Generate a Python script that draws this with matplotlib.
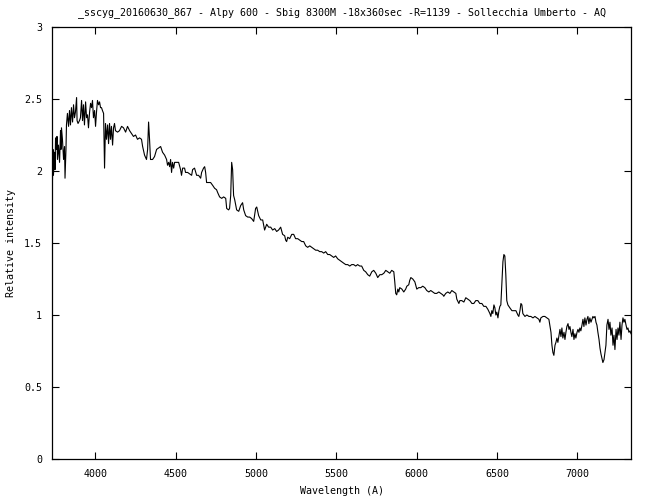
import matplotlib
matplotlib.use("Agg")
import matplotlib.pyplot as plt
from matplotlib.ticker import FormatStrFormatter, MultipleLocator

# spectrum (wavelength in A, relative intensity)
wavelength = [
    3730, 3733, 3736, 3739, 3746, 3749, 3752, 3758, 3761, 3764, 3770, 3777,
    3783, 3786, 3789, 3795, 3802, 3808, 3811, 3817, 3820, 3826, 3833, 3839,
    3845, 3851, 3858, 3864, 3870, 3876, 3883, 3886, 3892, 3901, 3907, 3914,
    3920, 3926, 3932, 3939, 3945, 3951, 3957, 3964, 3970, 3976, 3982, 3988,
    3995, 4001, 4007, 4013, 4020, 4026, 4032, 4038, 4044, 4051, 4057, 4063,
    4069, 4076, 4082, 4088, 4094, 4100, 4107, 4113, 4119, 4125, 4138, 4150,
    4163, 4175, 4188, 4200, 4213, 4225, 4237, 4250, 4262, 4275, 4287, 4294,
    4306, 4318, 4325, 4331, 4337, 4343, 4356, 4368, 4381, 4393, 4406, 4418,
    4431, 4443, 4449, 4456, 4462, 4468, 4474, 4480, 4487, 4493, 4505, 4518,
    4530, 4536, 4543, 4555, 4561, 4574, 4586, 4599, 4605, 4617, 4630, 4642,
    4655, 4661, 4673, 4680, 4686, 4692, 4705, 4717, 4730, 4742, 4754, 4761,
    4773, 4786, 4798, 4811, 4817, 4829, 4835, 4842, 4848, 4854, 4860, 4867,
    4879, 4892, 4904, 4916, 4923, 4935, 4948, 4960, 4972, 4985, 4997, 5004,
    5016, 5029, 5041, 5053, 5066, 5078, 5091, 5103, 5116, 5128, 5140, 5153,
    5165, 5178, 5184, 5190, 5197, 5209, 5222, 5234, 5246, 5259, 5271, 5284,
    5296, 5309, 5321, 5334, 5346, 5359, 5371, 5383, 5396, 5408, 5421, 5433,
    5446, 5458, 5471, 5483, 5495, 5508, 5520, 5533, 5545, 5558, 5570, 5583,
    5595, 5607, 5620, 5632, 5645, 5657, 5670, 5682, 5695, 5707, 5720, 5732,
    5745, 5757, 5770, 5782, 5795, 5807, 5819, 5832, 5844, 5857, 5863, 5869,
    5875, 5882, 5888, 5894, 5907, 5919, 5931, 5938, 5950, 5956, 5963, 5975,
    5988, 6000, 6012, 6025, 6037, 6050, 6062, 6075, 6087, 6100, 6112, 6124,
    6137, 6149, 6162, 6168, 6180, 6193, 6206, 6218, 6230, 6243, 6249, 6262,
    6268, 6280, 6293, 6305, 6318, 6330, 6343, 6355, 6367, 6380, 6392, 6405,
    6417, 6430, 6442, 6455, 6461, 6467, 6473, 6480, 6486, 6492, 6498, 6505,
    6511, 6517, 6523, 6529, 6536, 6542, 6548, 6554, 6560, 6567, 6579, 6592,
    6604, 6617, 6629, 6635, 6642, 6648, 6654, 6660, 6673, 6685, 6698, 6710,
    6723, 6735, 6747, 6760, 6766, 6772, 6785, 6797, 6810, 6822, 6828, 6835,
    6841, 6847, 6853, 6860, 6866, 6872, 6878, 6885, 6891, 6897, 6903, 6909,
    6916, 6922, 6928, 6934, 6941, 6947, 6953, 6959, 6965, 6972, 6978, 6984,
    6990, 6997, 7003, 7009, 7015, 7021, 7028, 7034, 7040, 7046, 7053, 7059,
    7065, 7071, 7077, 7084, 7090, 7096, 7102, 7109, 7115, 7121, 7127, 7134,
    7140, 7146, 7152, 7158, 7165, 7171, 7177, 7183, 7190, 7196, 7202, 7208,
    7215, 7221, 7227, 7233, 7240, 7246, 7252, 7258, 7264, 7271, 7277, 7283,
    7289, 7295, 7302, 7308, 7314, 7320, 7327, 7333,
]
intensity = [
    2.04, 1.94, 2.15, 1.97, 2.13, 2.01, 2.23, 2.15, 2.24, 2.08, 2.18, 2.06,
    2.28, 2.15, 2.30, 2.22, 2.08, 2.17, 1.95, 2.15, 2.32, 2.40, 2.31, 2.42,
    2.32, 2.44, 2.34, 2.46, 2.37, 2.41, 2.51, 2.35, 2.33, 2.35, 2.37, 2.49,
    2.35, 2.46, 2.32, 2.48, 2.37, 2.39, 2.30, 2.41, 2.47, 2.44, 2.49, 2.37,
    2.42, 2.31, 2.41, 2.49, 2.46, 2.48, 2.44, 2.44, 2.42, 2.40, 2.02, 2.33,
    2.22, 2.32, 2.19, 2.33, 2.22, 2.31, 2.18, 2.30, 2.33, 2.28, 2.27, 2.28,
    2.31, 2.30, 2.27, 2.31, 2.28, 2.26, 2.24, 2.25, 2.22, 2.23, 2.22, 2.17,
    2.11, 2.08, 2.15, 2.34, 2.22, 2.08, 2.08, 2.10, 2.15, 2.16, 2.17, 2.13,
    2.11, 2.08, 2.04, 2.06, 2.03, 2.08, 1.99, 2.06, 2.02, 2.06, 2.06, 2.06,
    2.01, 1.97, 2.02, 2.02, 1.99, 1.99, 1.98, 1.97, 2.01, 2.02, 1.97, 1.97,
    1.95, 1.99, 2.02, 2.03, 1.99, 1.92, 1.92, 1.92, 1.90, 1.88, 1.87, 1.85,
    1.82, 1.81, 1.82, 1.81, 1.74, 1.73, 1.74, 1.83, 2.06, 2.01, 1.83, 1.80,
    1.73, 1.72, 1.76, 1.78, 1.73, 1.69, 1.68, 1.68, 1.67, 1.65, 1.74, 1.75,
    1.69, 1.66, 1.66, 1.59, 1.63, 1.61, 1.61, 1.59, 1.60, 1.58, 1.59, 1.61,
    1.56, 1.55, 1.52, 1.51, 1.54, 1.53, 1.56, 1.56, 1.53, 1.53, 1.52, 1.51,
    1.51, 1.48, 1.47, 1.48, 1.47, 1.46, 1.45, 1.45, 1.44, 1.44, 1.43, 1.44,
    1.42, 1.42, 1.41, 1.40, 1.41, 1.39, 1.38, 1.37, 1.36, 1.35, 1.35, 1.34,
    1.35, 1.35, 1.34, 1.35, 1.34, 1.34, 1.31, 1.30, 1.28, 1.27, 1.30, 1.31,
    1.29, 1.26, 1.28, 1.28, 1.29, 1.31, 1.30, 1.29, 1.31, 1.30, 1.23, 1.15,
    1.14, 1.18, 1.16, 1.19, 1.18, 1.16, 1.18, 1.20, 1.21, 1.24, 1.26, 1.25,
    1.23, 1.18, 1.19, 1.19, 1.20, 1.19, 1.17, 1.16, 1.17, 1.16, 1.15, 1.15,
    1.16, 1.15, 1.14, 1.13, 1.15, 1.16, 1.15, 1.17, 1.16, 1.15, 1.11, 1.08,
    1.10, 1.10, 1.09, 1.12, 1.11, 1.10, 1.08, 1.08, 1.10, 1.10, 1.08, 1.08,
    1.06, 1.06, 1.04, 1.01, 0.99, 1.03, 1.01, 1.07, 1.05, 1.00, 1.02, 0.98,
    1.03, 1.06, 1.07, 1.21, 1.37, 1.42, 1.41, 1.28, 1.10, 1.07, 1.05, 1.03,
    1.03, 1.03, 1.00, 0.99, 1.03, 1.08, 1.07, 1.01, 0.99, 1.00, 0.99, 0.99,
    0.98, 0.99, 0.98, 0.97, 0.95, 0.98, 0.99, 0.99, 0.98, 0.97, 0.93, 0.88,
    0.79, 0.74, 0.72, 0.79, 0.81, 0.84, 0.81, 0.86, 0.90, 0.85, 0.91, 0.84,
    0.88, 0.83, 0.88, 0.92, 0.94, 0.90, 0.92, 0.88, 0.85, 0.90, 0.83, 0.87,
    0.84, 0.88, 0.90, 0.88, 0.91, 0.89, 0.93, 0.97, 0.92, 0.98, 0.93, 0.97,
    0.99, 0.94, 0.98, 0.95, 0.97, 0.99, 0.98, 0.99, 0.95, 0.93, 0.88, 0.83,
    0.77, 0.73, 0.70, 0.67, 0.69, 0.74, 0.79, 0.93, 0.97, 0.90, 0.95, 0.86,
    0.91, 0.79, 0.86, 0.76, 0.90, 0.83, 0.91, 0.86, 0.95, 0.83, 0.93, 0.98,
    0.95, 0.97, 0.93, 0.90, 0.91, 0.88, 0.89, 0.87,
]

title = "_sscyg_20160630_867 - Alpy 600 - Sbig 8300M -18x360sec -R=1139 - Sollecchia Umberto - AQ"
x_label = "Wavelength (A)"
y_label = "Relative intensity"

font = "DejaVu Sans Mono"
fsize = 7.2

fig = plt.figure(figsize=(6.5, 5), dpi=100)
ax = fig.add_axes([52 / 650, 41 / 500, 579 / 650, 432 / 500])

ax.plot(wavelength, intensity, color="black", linewidth=0.8)

ax.set_xlim(3730, 7333)
ax.set_ylim(0, 3)
ax.xaxis.set_major_locator(MultipleLocator(500))
ax.yaxis.set_major_locator(MultipleLocator(0.5))
ax.yaxis.set_major_formatter(FormatStrFormatter("%g"))

ax.tick_params(direction="in", length=5, width=0.8, top=True, right=True,
               labelsize=fsize, pad=7)
for lab in ax.get_xticklabels() + ax.get_yticklabels():
    lab.set_family(font)
for sp in ax.spines.values():
    sp.set_linewidth(0.9)

ax.set_xlabel(x_label, family=font, fontsize=fsize, labelpad=5)
ax.set_ylabel(y_label, family=font, fontsize=fsize, labelpad=6)
# title centred over the plot area, like gnuplot does
ax.text(0.5, 1 + 14 / 432, title, transform=ax.transAxes, family=font,
        fontsize=fsize, ha="center", va="center")

fig.savefig("out.png", dpi=100)
